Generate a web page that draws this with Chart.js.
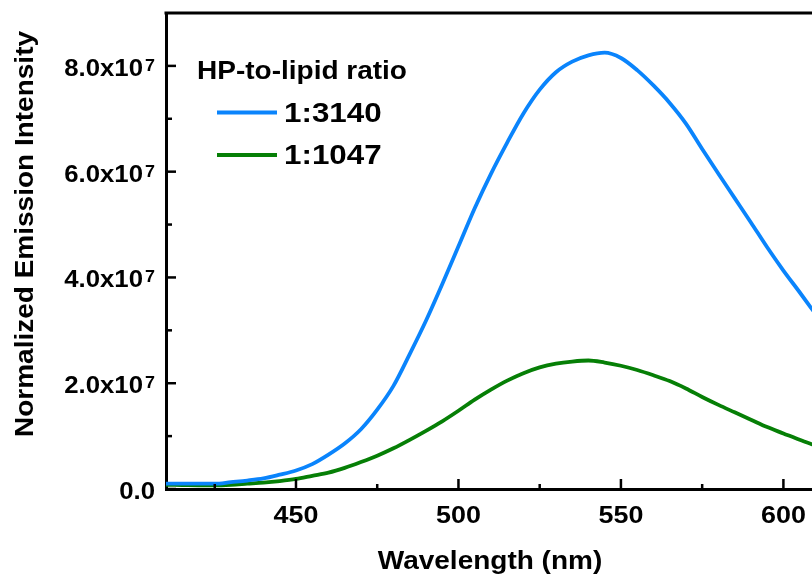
<!DOCTYPE html>
<html lang="en">
<head>
  <meta charset="UTF-8" />
  <title>Normalized Emission Intensity</title>
  <script src="https://cdn.jsdelivr.net/npm/chart.js"></script>
  <style>
    body { margin: 0; background: #fff; }
    canvas { display: block; }
  </style>
</head>
<body>
  <canvas id="emissionChart" width="812" height="577"></canvas>

  <script>
    // wavelength (nm)
    const wavelengths = [410, 415, 420, 425, 430, 435, 440, 445, 450, 455, 460, 465, 470, 475, 480,
      485, 490, 495, 500, 505, 510, 515, 520, 525, 530, 535, 540, 545, 550, 555, 560, 565, 570,
      575, 580, 585, 590, 595, 600, 605, 610];

    // intensity in units of 10^7
    const ratio3140 = [0.10, 0.10, 0.10, 0.10, 0.13, 0.16, 0.20, 0.27, 0.35, 0.47, 0.65, 0.86, 1.13, 1.50, 1.95,
      2.55, 3.18, 3.87, 4.59, 5.31, 5.96, 6.55, 7.10, 7.55, 7.88, 8.08, 8.20, 8.25, 8.15, 7.92, 7.63, 7.30, 6.91,
      6.43, 5.96, 5.50, 5.04, 4.57, 4.13, 3.72, 3.30];
    const ratio1047 = [0.08, 0.075, 0.07, 0.07, 0.08, 0.10, 0.12, 0.15, 0.19, 0.25, 0.31, 0.40, 0.51, 0.63, 0.77,
      0.93, 1.10, 1.28, 1.48, 1.69, 1.88, 2.05, 2.19, 2.30, 2.37, 2.41, 2.43, 2.39, 2.33, 2.25, 2.15, 2.04, 1.90,
      1.74, 1.59, 1.45, 1.31, 1.17, 1.05, 0.93, 0.82];

    const seriesNames = ['1:3140', '1:1047'];
    const seriesColors = ['#0a84fc', '#067f06'];
    const legendTitle = 'HP-to-lipid ratio';

    const xMajorTicks = [450, 500, 550, 600];
    const xMinorTicks = [425, 475, 525, 575];
    const yMajorTicks = [0, 2, 4, 6, 8];
    const yMinorTicks = [1, 3, 5, 7];

    const FONT = '"Liberation Sans", Arial, sans-serif';
    const SX = 1.12; // the original lettering is a little wide

    function txt(ctx, s, x, y, size, align, rot) {
      ctx.save();
      ctx.translate(x, y);
      if (rot) ctx.rotate(rot);
      ctx.scale(SX, 1);
      ctx.font = 'bold ' + size + 'px ' + FONT;
      ctx.fillStyle = '#000';
      ctx.textAlign = align;
      ctx.textBaseline = 'alphabetic';
      ctx.fillText(s, 0, 0);
      ctx.restore();
    }

    const decorations = {
      id: 'decorations',
      afterDraw(chart) {
        const ctx = chart.ctx;
        const xs = chart.scales.x, ys = chart.scales.y;
        const a = chart.chartArea;

        ctx.save();
        ctx.strokeStyle = '#000';
        // top frame line
        ctx.lineWidth = 3;
        ctx.beginPath();
        ctx.moveTo(a.left - 1.5, a.top);
        ctx.lineTo(a.right + 2, a.top);
        ctx.stroke();

        // inward ticks
        ctx.lineWidth = 2.5;
        const tick = (x1, y1, x2, y2) => { ctx.beginPath(); ctx.moveTo(x1, y1); ctx.lineTo(x2, y2); ctx.stroke(); };
        xMajorTicks.forEach(v => { const p = xs.getPixelForValue(v); tick(p, a.bottom, p, a.bottom - 10); });
        xMinorTicks.forEach(v => { const p = xs.getPixelForValue(v); tick(p, a.bottom, p, a.bottom - 5); });
        yMajorTicks.forEach(v => { const p = ys.getPixelForValue(v); tick(a.left, p, a.left + 10, p); });
        yMinorTicks.forEach(v => { const p = ys.getPixelForValue(v); tick(a.left, p, a.left + 6, p); });
        ctx.restore();

        // tick labels
        xMajorTicks.forEach(v => txt(ctx, String(v), xs.getPixelForValue(v), a.bottom + 34, 24, 'center'));
        yMajorTicks.forEach(v => {
          const p = ys.getPixelForValue(v);
          if (v === 0) {
            txt(ctx, '0.0', 155, p + 9.5, 23, 'right');
          } else {
            txt(ctx, v.toFixed(1) + 'x10', 143, p + 10, 23, 'right');
            txt(ctx, '7', 155, p + 5, 16, 'right');
          }
        });

        // axis titles
        txt(ctx, 'Wavelength (nm)', 490, 569, 25, 'center');
        txt(ctx, 'Normalized Emission Intensity', 33, 234, 25, 'center', -Math.PI / 2);

        // legend
        txt(ctx, legendTitle, 197, 79, 25, 'left');
        const rows = [112.5, 155];
        seriesNames.forEach((name, i) => {
          ctx.save();
          ctx.strokeStyle = seriesColors[i];
          ctx.lineWidth = 4;
          ctx.beginPath();
          ctx.moveTo(217, rows[i]);
          ctx.lineTo(277, rows[i]);
          ctx.stroke();
          ctx.restore();
          txt(ctx, name, 284, rows[i] + 9, 28, 'left');
        });
      }
    };

    new Chart(document.getElementById('emissionChart'), {
      type: 'line',
      data: {
        labels: wavelengths,
        datasets: [ratio3140, ratio1047].map((vals, i) => ({
          label: seriesNames[i],
          data: wavelengths.map((w, j) => ({ x: w, y: vals[j] })),
          borderColor: seriesColors[i],
          borderWidth: 3.8,
          pointRadius: 0,
          fill: false,
          cubicInterpolationMode: 'monotone'
        }))
      },
      options: {
        responsive: false,
        animation: false,
        layout: { padding: { top: 13, right: 0, left: 0, bottom: 0 } },
        plugins: {
          legend: { display: false },
          tooltip: { enabled: false }
        },
        scales: {
          x: {
            type: 'linear',
            min: 410,
            max: 608.8,
            ticks: { display: false },
            grid: { display: false },
            border: { display: true, color: '#000', width: 3 },
            afterFit: s => { s.height = 88; }
          },
          y: {
            min: 0,
            max: 9.0,
            ticks: { display: false },
            grid: { display: false },
            border: { display: true, color: '#000', width: 3 },
            afterFit: s => { s.width = 166; }
          }
        }
      },
      plugins: [decorations]
    });
  </script>
</body>
</html>
